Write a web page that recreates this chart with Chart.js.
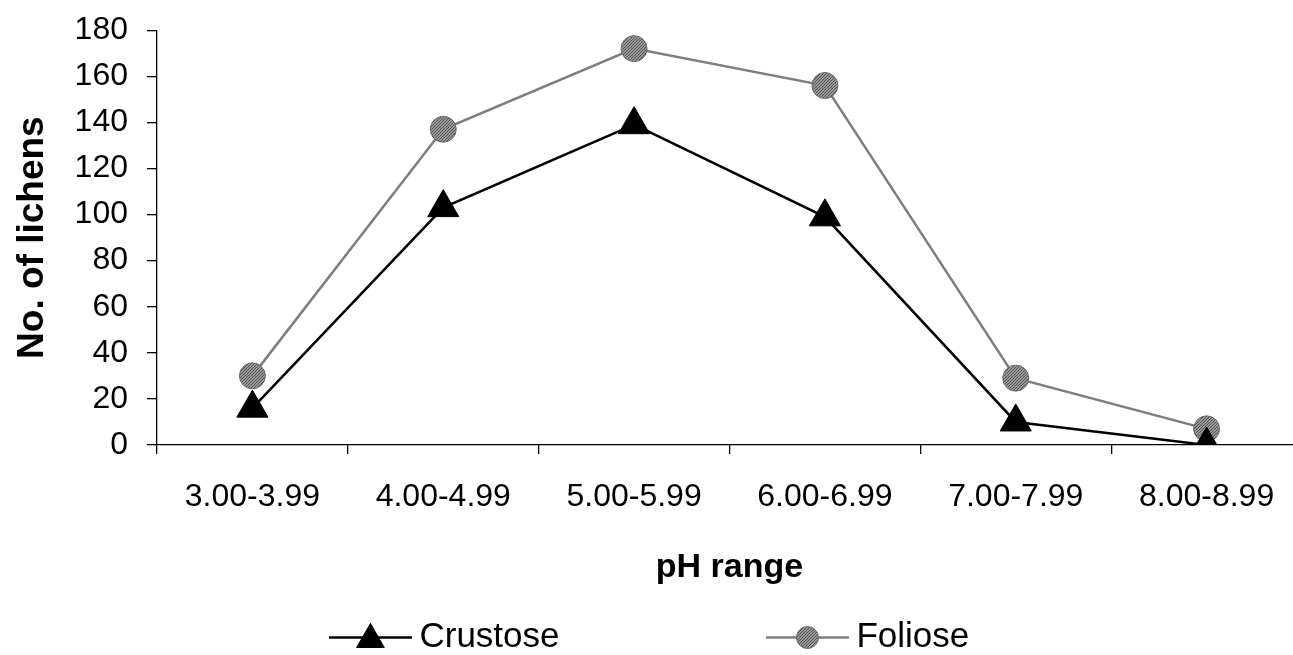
<!DOCTYPE html>
<html>
<head>
<meta charset="utf-8">
<script src="https://cdn.jsdelivr.net/npm/chart.js@4/dist/chart.umd.min.js"></script>
<style>
  html, body { margin: 0; padding: 0; background: #fff; overflow: hidden; }
  #outer { width: 1293px; height: 655px; overflow: hidden; position: relative; }
  #wrap { width: 1321px; height: 655px; position: absolute; left: 0; top: 0; }
</style>
</head>
<body>
<div id="outer"><div id="wrap"><canvas id="lichenChart"></canvas></div></div>
<script>
  // data
  var ph_range = ['3.00-3.99', '4.00-4.99', '5.00-5.99', '6.00-6.99', '7.00-7.99', '8.00-8.99'];
  var crustose = [16, 103, 139, 99, 10, 0];
  var foliose = [30, 137, 172, 156, 29, 7];
  var y_min = 0, y_max = 180, y_step = 20;

  var fontFam = "'Liberation Sans', Arial, Helvetica, sans-serif";

  // hatched grey fill like the old excel marker
  function hatch(){
    var c = document.createElement('canvas');
    c.width = 3; c.height = 3;
    var g = c.getContext('2d');
    g.fillStyle = '#959595';
    g.fillRect(0, 0, 3, 3);
    g.fillStyle = '#5a5a5a';
    g.fillRect(0, 2, 1, 1);
    g.fillRect(1, 1, 1, 1);
    g.fillRect(2, 0, 1, 1);
    return g.createPattern(c, 'repeat');
  }
  var greyFill = hatch();

  // legend: line + marker drawn over the (empty) legend box
  var legendMarkers = {
    id: 'legendMarkers',
    afterDraw: function(chart){
      var lg = chart.legend;
      if(!lg || !lg.legendHitBoxes) return;
      var ctx = chart.ctx;
      lg.legendHitBoxes.forEach(function(box, i){
        var ds = chart.data.datasets[i];
        var x0 = box.left + 1, x1 = box.left + 84;
        var cy = box.top + box.height / 2;
        ctx.save();
        ctx.strokeStyle = ds.borderColor;
        ctx.lineWidth = ds.borderWidth;
        ctx.beginPath();
        ctx.moveTo(x0, cy); ctx.lineTo(x1, cy);
        ctx.stroke();
        ctx.fillStyle = ds.pointBackgroundColor;
        ctx.strokeStyle = ds.pointBorderColor;
        ctx.lineWidth = ds.pointBorderWidth;
        Chart.helpers.drawPoint(ctx, {pointStyle: ds.pointStyle, radius: ds.pointRadius - 2, rotation: 0, borderWidth: ds.pointBorderWidth}, (x0 + x1) / 2, cy + (i === 0 ? 2 : 0));
        ctx.restore();
      });
    }
  };

  var ctx_live = document.getElementById('lichenChart');
  var config = new Chart(ctx_live, {
    type: 'line',
    data: {
      labels: ph_range,
      datasets: [{
        label: 'Crustose',
        data: crustose,
        borderColor: '#000',
        backgroundColor: '#000',
        borderWidth: 2.5,
        pointStyle: 'triangle',
        pointRadius: 18,
        pointHoverRadius: 18,
        pointBackgroundColor: '#000',
        pointBorderColor: '#000',
        pointBorderWidth: 1,
        fill: false,
        tension: 0
      },{
        label: 'Foliose',
        data: foliose,
        borderColor: '#7e7e7e',
        backgroundColor: '#7e7e7e',
        borderWidth: 2.5,
        pointStyle: 'circle',
        pointRadius: 13,
        pointHoverRadius: 13,
        pointBackgroundColor: greyFill,
        pointBorderColor: '#6a6a6a',
        pointBorderWidth: 1,
        fill: false,
        tension: 0
      }]
    },
    options: {
      responsive: true,
      maintainAspectRatio: false,
      animation: false,
      layout: { padding: { top: 0, right: 0, bottom: -10, left: 0 } },
      plugins: {
        tooltip: { enabled: false },
        legend: {
          position: 'bottom',
          labels: {
            boxWidth: 74,
            boxHeight: 2,
            padding: 4,
            color: '#000',
            font: { family: fontFam, size: 35 },
            generateLabels: function(chart){
              return chart.data.datasets.map(function(ds, i){
                return {
                  text: i === 0 ? ds.label + '\u2003\u2003\u2003\u2003\u2003  \u2009' : ds.label + ' \u2009\u2009',
                  fillStyle: 'rgba(0,0,0,0)',
                  strokeStyle: 'rgba(0,0,0,0)',
                  lineWidth: 0,
                  hidden: false,
                  datasetIndex: i,
                  fontColor: '#000'
                };
              });
            }
          }
        }
      },
      scales: {
        x: {
          offset: true,
          grid: { display: true, offset: true, drawOnChartArea: false, drawTicks: true, tickLength: 9, color: '#000', lineWidth: 1.3 },
          border: { display: true, color: '#000', width: 1.3 },
          ticks: { color: '#000', padding: 24, maxRotation: 0, autoSkip: false, font: { family: fontFam, size: 32 } },
          title: { display: true, text: 'pH range', color: '#000', font: { family: fontFam, size: 34, weight: 'bold' }, padding: { top: 0, bottom: 28 } },
          afterFit: function(scale){
            var lh = scale.chart.legend ? scale.chart.legend.height : 43;
            scale.height = 655 + 10 - 445 - lh;
          }
        },
        y: {
          min: y_min,
          max: y_max,
          ticks: { stepSize: y_step, color: '#000', padding: 19, font: { family: fontFam, size: 32, lineHeight: 0.7 } },
          grid: { display: true, drawOnChartArea: false, drawTicks: true, tickLength: 10, color: '#000', lineWidth: 1.3 },
          border: { display: true, color: '#000', width: 1.3 },
          title: { display: true, text: 'No. of lichens', color: '#000', font: { family: fontFam, size: 37, weight: 'bold' }, padding: { top: 11, bottom: 0 } },
          afterFit: function(scale){
            scale.width = 157;
          }
        }
      }
    },
    plugins: [legendMarkers]
  });
</script>
</body>
</html>
